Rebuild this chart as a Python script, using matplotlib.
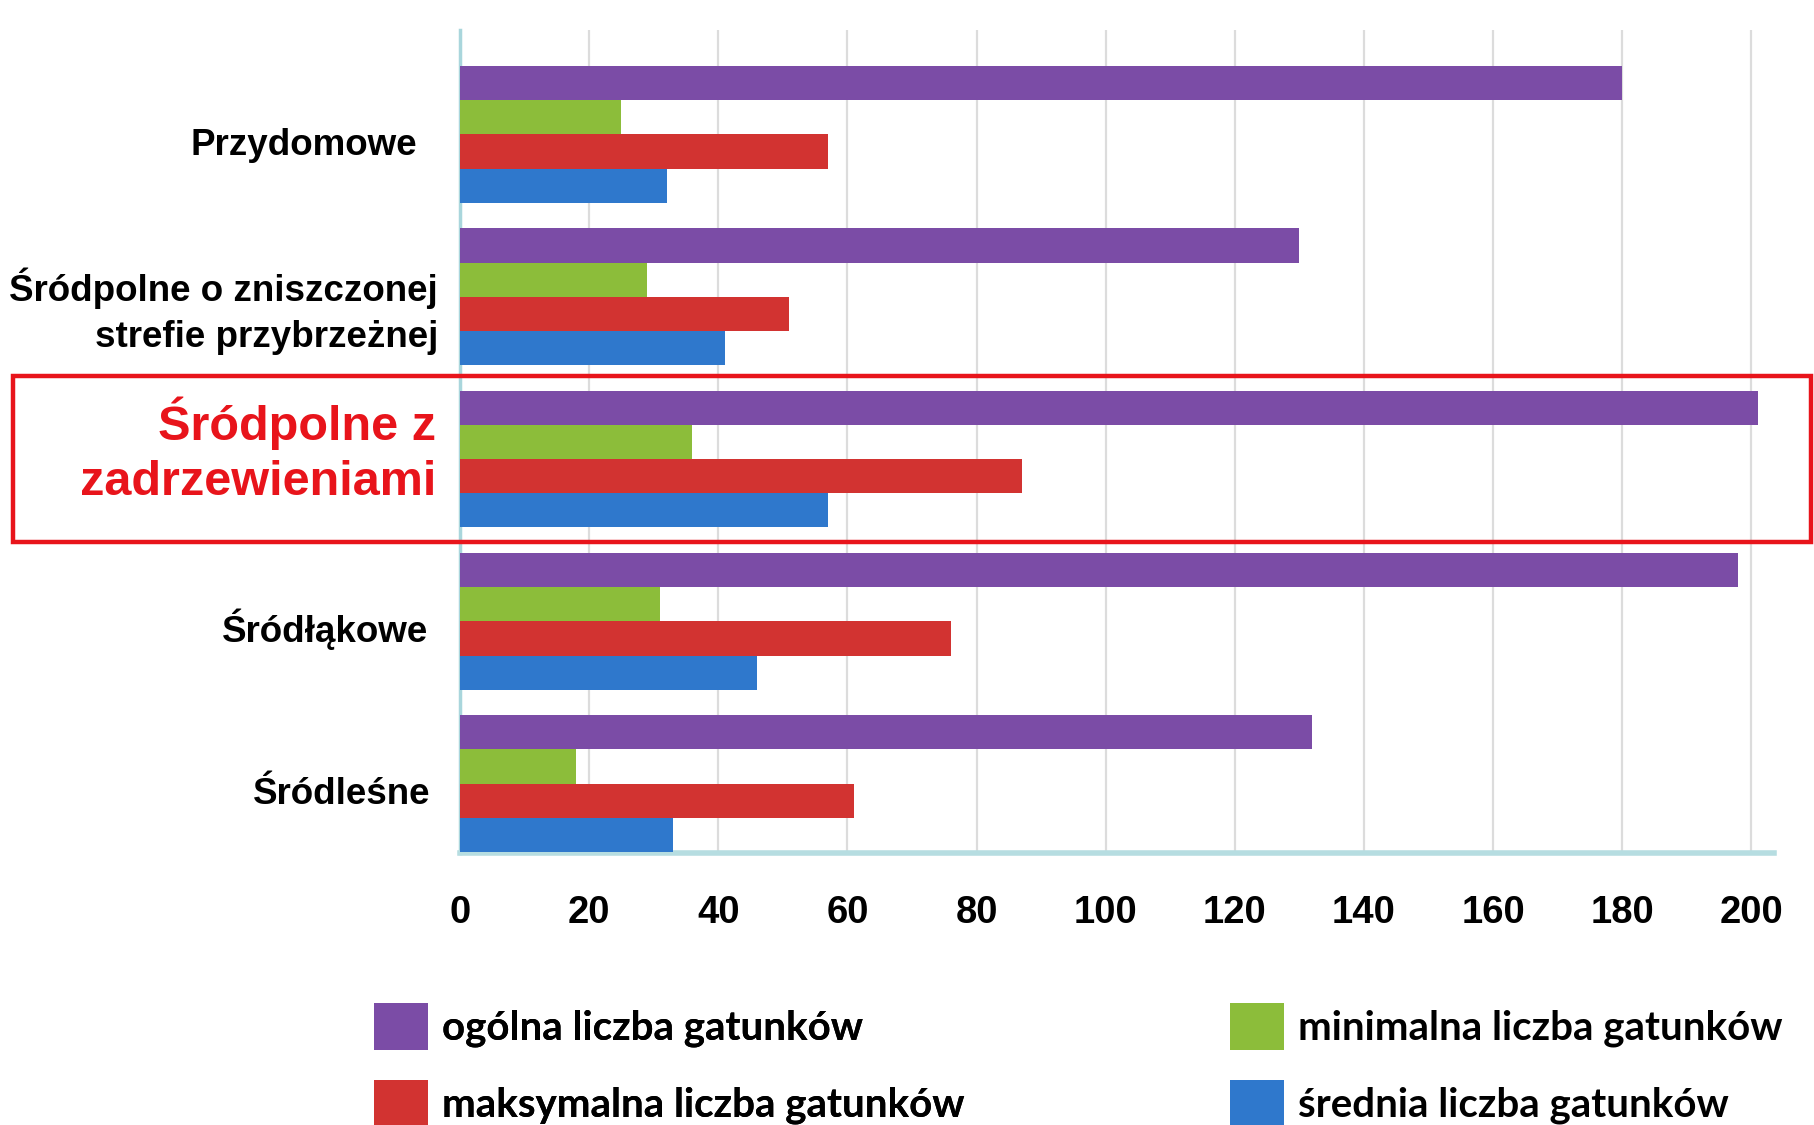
import matplotlib
matplotlib.use("Agg")
import matplotlib.pyplot as plt
import matplotlib.patches as mpatches
import matplotlib.transforms as mtransforms
import numpy as np

categories = ["Przydomowe",
              "Śródpolne o zniszczonej\nstrefie przybrzeżnej",
              "Śródpolne z\nzadrzewieniami",
              "Śródłąkowe",
              "Śródleśne"]
ogolna = [180, 130, 201, 198, 132]
minimalna = [25, 29, 36, 31, 18]
maksymalna = [57, 51, 87, 76, 61]
srednia = [32, 41, 57, 46, 33]
series_labels = ["ogólna liczba gatunków", "minimalna liczba gatunków",
                 "maksymalna liczba gatunków", "średnia liczba gatunków"]
xticks = [0, 20, 40, 60, 80, 100, 120, 140, 160, 180, 200]

colors = ["#7b4ca6", "#8cbd3a", "#d23331", "#2f78cc"]

W, H = 1814, 1125
fig = plt.figure(figsize=(W / 100, H / 100), dpi=100)
fig.patch.set_facecolor("white")

ax_l, ax_r, ax_t, ax_b = 460, 1774, 30, 853
ax = fig.add_axes([ax_l / W, 1 - ax_b / H, (ax_r - ax_l) / W, (ax_b - ax_t) / H])

y = np.arange(len(categories))
h = 0.211
series = [ogolna, minimalna, maksymalna, srednia]
offsets = [-1.5 * h, -0.5 * h, 0.5 * h, 1.5 * h]
containers = []
for vals, off, col in zip(series, offsets, colors):
    c = ax.barh(y + off, vals, height=h, color=col, edgecolor="none", zorder=3)
    containers.append(c)

ax.set_xlim(0, 203.5)
ax.set_ylim(4.428, -0.644)
ax.set_xticks(xticks)
ax.set_xticklabels([str(t) for t in xticks], fontsize=27.5, fontweight="bold",
                   family="Liberation Sans")
ax.tick_params(axis="x", length=0, pad=30)
ax.set_yticks([])
ax.grid(axis="x", color="#dcdcdc", linewidth=1.6, zorder=0)
ax.set_axisbelow(True)
for s in ["top", "right"]:
    ax.spines[s].set_visible(False)
ax.spines["left"].set_color("#a9d6dc")
ax.spines["left"].set_linewidth(2.5)
ax.spines["bottom"].set_color("#b6dde1")
ax.spines["bottom"].set_linewidth(4)

# category labels
trans = mtransforms.blended_transform_factory(fig.transFigure, ax.transData)
label_right = [417, 438, 436, 428, 430]
label_dy = [0.07, 0.09, -0.05, 0.05, 0.07]
for i, (lab, r, dy) in enumerate(zip(categories, label_right, label_dy)):
    if i == 2:
        ax.text(r / W, y[i] + dy, lab, transform=trans, ha="right", va="center",
                fontsize=35, fontweight="bold", color="#e8141b",
                family="Liberation Sans", linespacing=1.28, clip_on=False)
    else:
        ax.text(r / W, y[i] + dy, lab, transform=trans, ha="right", va="center",
                fontsize=26.5, fontweight="bold", color="black",
                family="Liberation Sans", linespacing=1.42, clip_on=False)

# red highlight box
box = mpatches.Rectangle((13 / W, 1 - 542 / H), (1811 - 13) / W, (542 - 376) / H,
                         transform=fig.transFigure, fill=False,
                         edgecolor="#e8141b", linewidth=3.2, zorder=10)
fig.patches.append(box)

# legend (two columns)
fs = 29
fs_px = fs * 100 / 72
common = dict(frameon=False, borderpad=0, borderaxespad=0,
              handlelength=54 / fs_px, handleheight=1.4,
              handletextpad=0.35, labelspacing=0.75,
              prop={"family": "Lato", "weight": "bold", "size": fs},
              loc="upper left")
leg1 = fig.legend([containers[0], containers[2]], [series_labels[0], series_labels[2]],
                  bbox_to_anchor=(374 / W, 1 - 1003 / H), **common)
leg2 = fig.legend([containers[1], containers[3]], [series_labels[1], series_labels[3]],
                  bbox_to_anchor=(1230 / W, 1 - 1003 / H), **common)
fig.add_artist(leg1)

fig.savefig("out.png", dpi=100, facecolor="white")
